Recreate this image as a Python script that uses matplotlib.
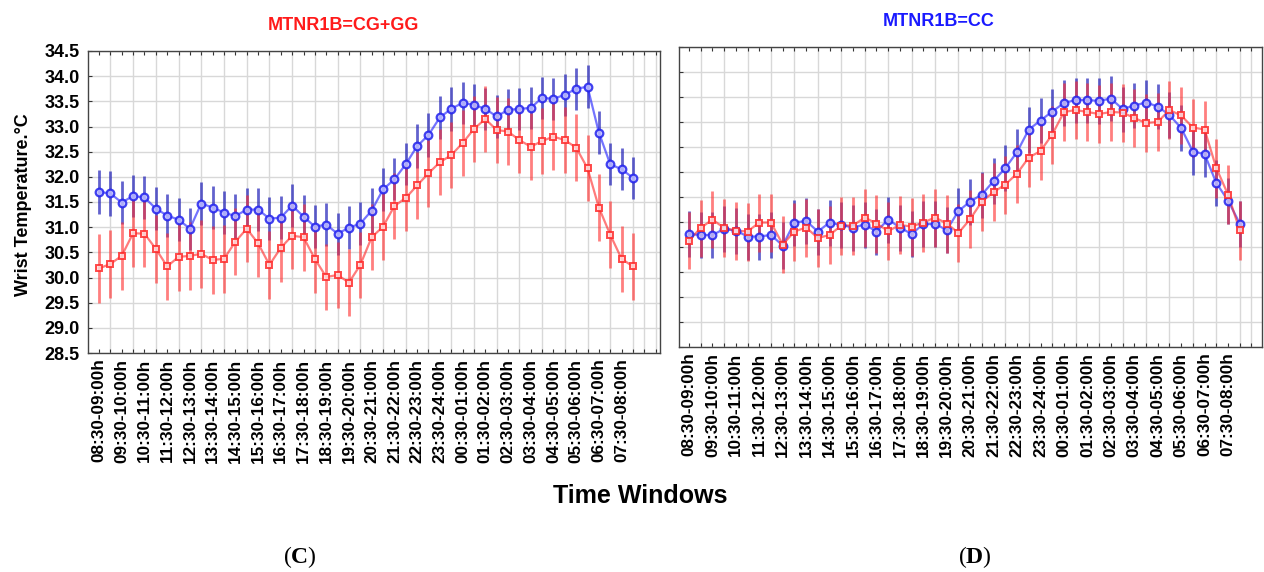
import matplotlib
matplotlib.use("Agg")
import matplotlib.pyplot as plt
import numpy as np

plt.rcParams['font.family'] = ['Liberation Sans', 'DejaVu Sans']
plt.rcParams['mathtext.fontset'] = 'custom'
plt.rcParams['mathtext.rm'] = 'Liberation Serif'
plt.rcParams['mathtext.bf'] = 'Liberation Serif:bold'

# ---------------- data ----------------
tick_labels = ["08:30-09:00h", "09:30-10:00h", "10:30-11:00h", "11:30-12:00h",
               "12:30-13:00h", "13:30-14:00h", "14:30-15:00h", "15:30-16:00h",
               "16:30-17:00h", "17:30-18:00h", "18:30-19:00h", "19:30-20:00h",
               "20:30-21:00h", "21:30-22:00h", "22:30-23:00h", "23:30-24:00h",
               "00:30-01:00h", "01:30-02:00h", "02:30-03:00h", "03:30-04:00h",
               "04:30-05:00h", "05:30-06:00h", "06:30-07:00h", "07:30-08:00h"]

# Panel C: MTNR1B = CG+GG
c_blue = [31.70, 31.67, 31.49, 31.62, 31.59, 31.37, 31.23, 31.15, 30.97, 31.47,
          31.39, 31.29, 31.22, 31.35, 31.35, 31.17, 31.19, 31.43, 31.21, 31.01,
          31.05, 30.87, 30.99, 31.07, 31.33, 31.75, 31.95, 32.25, 32.61, 32.83,
          33.18, 33.35, 33.47, 33.43, 33.35, 33.20, 33.33, 33.35, 33.37, 33.57,
          33.55, 33.63, 33.75, 33.79, 32.88, 32.25, 32.15, 31.98]
c_blue_err = [0.43, 0.44, 0.42, 0.42, 0.42, 0.42, 0.43, 0.43, 0.42, 0.43,
              0.42, 0.43, 0.43, 0.42, 0.42, 0.43, 0.43, 0.42, 0.43, 0.43,
              0.43, 0.42, 0.43, 0.43, 0.44, 0.42, 0.42, 0.42, 0.43, 0.43,
              0.43, 0.43, 0.42, 0.42, 0.42, 0.42, 0.42, 0.42, 0.42, 0.42,
              0.42, 0.42, 0.42, 0.43, 0.43, 0.42, 0.42, 0.42]
c_red = [30.18, 30.27, 30.43, 30.88, 30.87, 30.57, 30.22, 30.41, 30.43, 30.47,
         30.35, 30.37, 30.71, 30.97, 30.68, 30.25, 30.59, 30.83, 30.80, 30.37,
         30.01, 30.05, 29.90, 30.25, 30.80, 31.01, 31.42, 31.58, 31.83, 32.07,
         32.29, 32.43, 32.67, 32.95, 33.15, 32.93, 32.90, 32.73, 32.60, 32.71,
         32.80, 32.73, 32.58, 32.17, 31.39, 30.85, 30.37, 30.22]
c_red_err = [0.68, 0.68, 0.67, 0.67, 0.67, 0.67, 0.67, 0.67, 0.67, 0.67,
             0.67, 0.67, 0.67, 0.67, 0.67, 0.67, 0.67, 0.67, 0.67, 0.67,
             0.66, 0.66, 0.66, 0.66, 0.66, 0.66, 0.66, 0.66, 0.66, 0.66,
             0.66, 0.66, 0.66, 0.66, 0.66, 0.66, 0.66, 0.66, 0.66, 0.66,
             0.66, 0.66, 0.66, 0.66, 0.66, 0.66, 0.66, 0.66]

# Panel D: MTNR1B = CC
d_blue = [30.76, 30.74, 30.74, 30.86, 30.83, 30.71, 30.71, 30.74, 30.53, 30.99,
          31.02, 30.81, 30.99, 30.94, 30.89, 30.95, 30.81, 31.05, 30.89, 30.76,
          30.96, 30.96, 30.84, 31.22, 31.41, 31.55, 31.82, 32.08, 32.40, 32.85,
          33.03, 33.21, 33.38, 33.44, 33.44, 33.42, 33.47, 33.26, 33.33, 33.39,
          33.31, 33.14, 32.88, 32.41, 32.36, 31.78, 31.43, 30.97]
d_blue_err = [0.46, 0.46, 0.46, 0.46, 0.46, 0.46, 0.46, 0.46, 0.47, 0.46,
              0.46, 0.46, 0.46, 0.46, 0.46, 0.46, 0.46, 0.46, 0.46, 0.46,
              0.46, 0.46, 0.46, 0.46, 0.46, 0.46, 0.46, 0.46, 0.46, 0.46,
              0.45, 0.45, 0.45, 0.45, 0.45, 0.45, 0.45, 0.45, 0.45, 0.45,
              0.45, 0.45, 0.45, 0.46, 0.46, 0.46, 0.46, 0.46]
d_red = [30.63, 30.88, 31.05, 30.88, 30.83, 30.81, 30.99, 30.99, 30.55, 30.81,
         30.89, 30.68, 30.74, 30.93, 30.93, 31.09, 30.97, 30.82, 30.94, 30.91,
         30.99, 31.09, 30.97, 30.78, 31.06, 31.41, 31.60, 31.75, 31.97, 32.29,
         32.42, 32.75, 33.20, 33.24, 33.20, 33.16, 33.20, 33.19, 33.08, 32.98,
         33.00, 33.24, 33.13, 32.89, 32.85, 32.08, 31.55, 30.84]
d_red_err = [0.57, 0.57, 0.58, 0.58, 0.58, 0.58, 0.58, 0.58, 0.58, 0.58,
             0.58, 0.58, 0.58, 0.58, 0.58, 0.58, 0.58, 0.58, 0.58, 0.58,
             0.58, 0.58, 0.58, 0.58, 0.58, 0.58, 0.58, 0.58, 0.58, 0.58,
             0.58, 0.58, 0.58, 0.58, 0.58, 0.58, 0.58, 0.58, 0.58, 0.58,
             0.58, 0.58, 0.58, 0.58, 0.58, 0.59, 0.59, 0.59]

y_ticks = [28.5, 29.0, 29.5, 30.0, 30.5, 31.0, 31.5, 32.0, 32.5, 33.0, 33.5, 34.0, 34.5]

BLUE_LINE = '#2a2aff'
BLUE_BAR = '#2020b8'
RED_LINE = '#ff2a2a'
RED_BAR = '#ff3030'

W, H = 1264, 572
fig = plt.figure(figsize=(W / 100, H / 100), dpi=100)
fig.patch.set_facecolor('white')


def px_axes(x0, y0, x1, y1):
    return fig.add_axes([x0 / W, 1 - y1 / H, (x1 - x0) / W, (y1 - y0) / H])


def draw_panel(ax, blue, blue_err, red, red_err, xlim, show_ylabels):
    n = len(blue)
    x = np.arange(n)
    ax.set_xlim(*xlim)
    ax.set_ylim(28.5, 34.5)
    minor_pos = np.arange(0, int(np.floor(xlim[1])) + 1)
    ax.set_xticks(minor_pos, minor=True)
    ax.set_xticks(x[::2])
    ax.set_xticklabels(tick_labels, rotation=90, fontsize=12.3, fontweight='bold')
    ax.set_yticks(y_ticks)
    if show_ylabels:
        ax.set_yticklabels([f"{v:.1f}" for v in y_ticks], fontsize=13, fontweight='bold')
    else:
        ax.set_yticklabels([])
    ax.grid(True, which='minor', axis='x', color='#d8d8d8', lw=1.0, zorder=0)
    ax.grid(True, which='major', axis='y', color='#d8d8d8', lw=1.0, zorder=0)
    ax.tick_params(axis='x', which='both', direction='in', top=True, bottom=True,
                   length=3, width=0.8, pad=4, color='#333333')
    ax.tick_params(axis='y', which='both', direction='in', left=True, right=False,
                   length=3, width=0.8, pad=6, color='#333333')
    for s in ax.spines.values():
        s.set_color('#444444')
        s.set_linewidth(1.0)
    ax.set_axisbelow(True)

    ax.errorbar(x, blue, yerr=blue_err, fmt='none', ecolor=BLUE_BAR, elinewidth=2.0,
                alpha=0.7, capsize=0, zorder=3)
    ax.plot(x, blue, color=BLUE_LINE, lw=1.6, alpha=0.65, zorder=4)
    ax.plot(x, blue, linestyle='none', marker='o', ms=5.5, mfc=(0.75, 0.75, 1.0, 0.5),
            mec='#2222ee', mew=1.6, alpha=0.85, zorder=5)
    ax.errorbar(x, red, yerr=red_err, fmt='none', ecolor=RED_BAR, elinewidth=2.0,
                alpha=0.62, capsize=0, zorder=3)
    ax.plot(x, red, color=RED_LINE, lw=1.6, alpha=0.62, zorder=4)
    ax.plot(x, red, linestyle='none', marker='s', ms=5.0, mfc=(1.0, 0.88, 0.88, 0.5),
            mec=RED_LINE, mew=1.4, alpha=0.85, zorder=5)


axC = px_axes(88, 51, 660, 353)
draw_panel(axC, c_blue, c_blue_err, c_red, c_red_err, (-0.97, 49.38), True)

axD = px_axes(679, 47, 1262, 347)
draw_panel(axD, d_blue, d_blue_err, d_red, d_red_err, (-0.85, 48.9), False)

fig.text(343 / W, 1 - 25 / H, "MTNR1B=CG+GG", color='#ff1a1a', fontsize=13,
         fontweight='bold', ha='center', va='center')
fig.text(939 / W, 1 - 21 / H, "MTNR1B=CC", color='#1a1aff', fontsize=13,
         fontweight='bold', ha='center', va='center')
fig.text(24 / W, 1 - 205 / H, "Wrist Temperature.°C", rotation=90, fontsize=13,
         fontweight='bold', ha='center', va='center')
fig.text(640 / W, 1 - 496 / H, "Time Windows", fontsize=18, fontweight='bold',
         ha='center', va='center')
fig.text(300 / W, 1 - 557 / H, r"($\mathbf{C}$)", fontsize=17,
         family='Liberation Serif', ha='center', va='center')
fig.text(975 / W, 1 - 557 / H, r"($\mathbf{D}$)", fontsize=17,
         family='Liberation Serif', ha='center', va='center')

fig.savefig("out.png", dpi=100, facecolor='white')
